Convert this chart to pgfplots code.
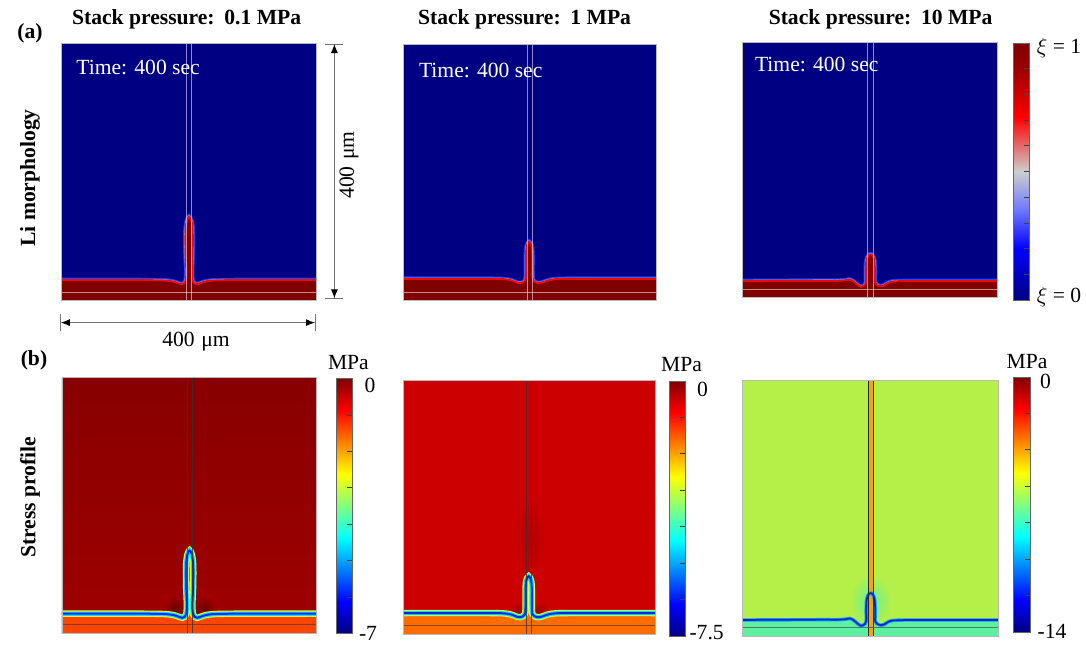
\documentclass[border=0pt]{standalone}
\usepackage{fontspec}
\setmainfont{Liberation Serif}
\usepackage{pgfplots}
\usepackage{pgfplotstable}
\usetikzlibrary{arrows.meta}
\pgfplotsset{compat=1.18}

\definecolor{navybg}{RGB}{0,0,130}
\definecolor{glowblue}{RGB}{20,60,255}
\definecolor{glowlight}{RGB}{150,160,255}
\definecolor{lidark}{RGB}{128,0,0}
\definecolor{lired}{RGB}{235,10,10}
\definecolor{bgA}{RGB}{136,0,0}
\definecolor{bgAlow}{RGB}{160,0,0}
\definecolor{layA}{RGB}{255,70,0}
\definecolor{bgB}{RGB}{204,0,0}
\definecolor{layB}{RGB}{255,108,0}
\definecolor{bgC}{RGB}{180,240,72}
\definecolor{layC}{RGB}{92,240,160}
\definecolor{stripC}{RGB}{245,165,0}
\definecolor{bandY}{RGB}{215,255,50}
\definecolor{bandC}{RGB}{0,225,255}
\definecolor{bandB}{RGB}{0,40,240}

% Li/electrolyte interface, um
\pgfplotstableread{
x y
0 31
120 31
160 30.5
175 29
183 26.5
189 24.5
193 26
195.5 30
196.5 38
196.5 50
195.6 70
195.2 95
195.7 112
197.3 123
199.5 128.5
201 130
202.5 128.5
204.7 123
206.3 112
206.8 95
206.4 70
205.5 50
205.5 38
206.5 30
209 26
213 24.5
219 26.5
227 29
242 30.5
280 31
400 31
}\profA
\pgfplotstableread{
x y
0 33
140 33
165 32
175 29.5
181 27
186 26.5
191 28.5
194 33
194.5 45
194.5 70
195.2 82
197 88
199.5 91
202 88
203.8 82
204.5 70
204.5 45
205 33
208 28.5
213 26.5
219 27
226 29.5
236 32
260 33
400 33
}\profB
\pgfplotstableread{
x y
0 25
120 25.5
150 25.5
163 26.5
168 27.5
174 25
181 19
186 16
191 18
194 23
194 40
194.5 55
196.5 63
199 66.5
201 67
203 66.5
205.5 63
207.5 55
208 40
208 23
211 19
216 17
222 18
228 22
234 24
240 24.5
260 25
400 25
}\profC

\pgfplotsset{
  panel/.style={scale only axis, anchor=north west, xmin=0, xmax=400, ymin=0, ymax=400,
    xtick=\empty, ytick=\empty, axis on top, axis line style={gray!55, line width=0.4pt}},
  sm/.style={smooth, tension=0.4},
  cbar/.style={colorbar style={at={(parent axis.north east)}, anchor=north west,
    yticklabel=\empty, ytick pos=right, tick align=inside, major tick length=2.5pt,
    tick style={black!75, line width=0.4pt}, axis line style={black!60, line width=0.4pt}}},
}
\newcommand\lbl{\fontsize{10.8}{12.5}\selectfont}

\begin{document}
\begin{tikzpicture}[every node/.style={font=\lbl, inner sep=0pt}]
\useasboundingbox (0pt,0pt) rectangle (543pt,-322pt);

% ---------- (a) Li morphology ----------
\begin{axis}[panel, at={(30.5pt,-21.75pt)}, width=127.5pt, height=128.25pt,
  axis background/.style={fill=navybg}]
  \addplot[sm, draw=glowblue, line width=2.4pt] table {\profA};
  \addplot[sm, draw=glowlight, line width=1.3pt] table {\profA};
  \addplot[sm, fill=lidark, draw=none] table {\profA} \closedcycle;
  \addplot[sm, draw=lired, line width=1.0pt] table {\profA};
  \addplot[white, opacity=0.55, line width=0.4pt] coordinates {(197,0)(197,400)};
  \addplot[white, opacity=0.55, line width=0.4pt] coordinates {(205,0)(205,400)};
  \addplot[white, opacity=0.55, line width=0.4pt] coordinates {(0,12)(400,12)};
\end{axis}
\begin{axis}[panel, at={(201.5pt,-22pt)}, width=126.5pt, height=128pt,
  axis background/.style={fill=navybg}]
  \addplot[sm, draw=glowblue, line width=2.4pt] table {\profB};
  \addplot[sm, draw=glowlight, line width=1.3pt] table {\profB};
  \addplot[sm, fill=lidark, draw=none] table {\profB} \closedcycle;
  \addplot[sm, draw=lired, line width=1.0pt] table {\profB};
  \addplot[white, opacity=0.55, line width=0.4pt] coordinates {(196,0)(196,400)};
  \addplot[white, opacity=0.55, line width=0.4pt] coordinates {(204,0)(204,400)};
  \addplot[white, opacity=0.55, line width=0.4pt] coordinates {(0,12)(400,12)};
\end{axis}
\begin{axis}[panel, at={(371pt,-21.25pt)}, width=127.75pt, height=127.25pt,
  axis background/.style={fill=navybg},
  colorbar, cbar, point meta min=0, point meta max=1,
  colormap={wave}{rgb255(0cm)=(0,0,128); rgb255(2cm)=(0,0,255); rgb255(3.5cm)=(110,120,255);
    rgb255(5cm)=(205,205,205); rgb255(7.1cm)=(255,0,0); rgb255(9.1cm)=(150,0,0); rgb255(10cm)=(128,0,0)},
  colorbar style={xshift=-0.75pt, yshift=-0.25pt, width=8pt, height=128.5pt,
    ytick={0.1,0.2,0.3,0.4,0.5,0.6,0.7,0.8,0.9}}]
  \addplot[sm, draw=glowblue, line width=2.4pt] table {\profC};
  \addplot[sm, draw=glowlight, line width=1.3pt] table {\profC};
  \addplot[sm, fill=lidark, draw=none] table {\profC} \closedcycle;
  \addplot[sm, draw=lired, line width=1.0pt] table {\profC};
  \addplot[white, opacity=0.55, line width=0.4pt] coordinates {(197,0)(197,400)};
  \addplot[white, opacity=0.55, line width=0.4pt] coordinates {(205,0)(205,400)};
  \addplot[white, opacity=0.55, line width=0.4pt] coordinates {(0,12)(400,12)};
\end{axis}

% ---------- (b) Stress profile ----------
\begin{axis}[panel, at={(31pt,-188.75pt)}, width=127pt, height=128pt,
  axis background/.style={top color=bgA, bottom color=bgAlow},
  colorbar, cbar, colormap/jet, point meta min=-7, point meta max=0,
  colorbar style={xshift=1.5pt, yshift=-0.5pt, width=8pt, height=127.5pt, ytick={-6,-5,-4,-3,-2,-1}}]
  \addplot[draw=none, inner color=bgA!75!black, outer color=bgAlow] coordinates {(160,12)(195,12)(195,60)(160,60)} -- cycle;
  \addplot[draw=none, inner color=bgA!75!black, outer color=bgAlow] coordinates {(207,12)(242,12)(242,60)(207,60)} -- cycle;
  \addplot[sm, fill=layA, draw=none] table {\profA} \closedcycle;
  \addplot[sm, draw=bandY, line width=3.2pt] table {\profA};
  \addplot[sm, draw=bandC, line width=2.1pt] table {\profA};
  \addplot[sm, draw=bandB, line width=1.0pt] table {\profA};
  \addplot[black!80, opacity=0.8, line width=0.4pt] coordinates {(197,0)(197,400)};
  \addplot[black!80, opacity=0.8, line width=0.4pt] coordinates {(205,0)(205,400)};
  \addplot[black!80, opacity=0.6, line width=0.45pt] coordinates {(0,14)(400,14)};
\end{axis}
\begin{axis}[panel, at={(201.5pt,-190pt)}, width=126pt, height=127pt,
  axis background/.style={fill=bgB},
  colorbar, cbar, colormap/jet, point meta min=-7.5, point meta max=0,
  colorbar style={xshift=-1.5pt, yshift=-0.5pt, width=8pt, height=127.5pt,
    ytick={-6.4286,-5.3571,-4.2857,-3.2143,-2.1429,-1.0714}}]
  \addplot[draw=none, inner color=bgB!88!black, outer color=bgB] coordinates {(175,85)(227,85)(227,220)(175,220)} -- cycle;
  \addplot[draw=none, inner color=bgB!75!black, outer color=bgB] coordinates {(168,15)(196,15)(196,52)(168,52)} -- cycle;
  \addplot[draw=none, inner color=bgB!75!black, outer color=bgB] coordinates {(204,15)(232,15)(232,52)(204,52)} -- cycle;
  \addplot[sm, fill=layB, draw=none] table {\profB} \closedcycle;
  \addplot[sm, draw=bandY, line width=3.2pt] table {\profB};
  \addplot[sm, draw=bandC, line width=2.1pt] table {\profB};
  \addplot[sm, draw=bandB, line width=1.0pt] table {\profB};
  \addplot[black!80, opacity=0.8, line width=0.4pt] coordinates {(196,0)(196,400)};
  \addplot[black!80, opacity=0.8, line width=0.4pt] coordinates {(204,0)(204,400)};
  \addplot[black!80, opacity=0.6, line width=0.45pt] coordinates {(0,14)(400,14)};
\end{axis}
\begin{axis}[panel, at={(371pt,-190pt)}, width=128pt, height=128pt,
  axis background/.style={fill=bgC},
  colorbar, cbar, colormap/jet, point meta min=-14, point meta max=0,
  colorbar style={xshift=-1pt, yshift=1.5pt, width=8.5pt, height=127.5pt, ytick={-12,-10,-8,-6,-4,-2}}]
  \addplot[draw=none, inner color=layC!85!bgC, outer color=bgC] coordinates {(168,15)(234,15)(234,95)(168,95)} -- cycle;
  \addplot[sm, fill=layC, draw=none] table {\profC} \closedcycle;
  \addplot[fill=stripC, draw=none] coordinates {(197,0)(205,0)(205,400)(197,400)} -- cycle;
  \addplot[sm, draw=bandC!70!blue, line width=1.7pt] table {\profC};
  \addplot[sm, draw=bandB!85!black, line width=0.8pt] table {\profC};
  \addplot[black!85, line width=0.45pt] coordinates {(197,0)(197,400)};
  \addplot[black!85, line width=0.45pt] coordinates {(205,0)(205,400)};
  \addplot[black!70, opacity=0.7, line width=0.45pt] coordinates {(0,13.5)(400,13.5)};
\end{axis}

% ---------- labels ----------
\node[font=\lbl\bfseries] at (15pt,-16.5pt) {(a)};
\node[font=\lbl\bfseries] at (17pt,-180pt) {(b)};
\node[font=\lbl\bfseries, rotate=90] at (15pt,-89pt) {Li morphology};
\node[font=\lbl\bfseries, rotate=90] at (15pt,-248.5pt) {Stress profile};
\node[font=\lbl\bfseries] at (93.3pt,-9.75pt) {Stack pressure:\hspace{0.45em}0.1 MPa};
\node[font=\lbl\bfseries] at (262.3pt,-9.75pt) {Stack pressure:\hspace{0.45em}1 MPa};
\node[font=\lbl\bfseries] at (440.3pt,-9.75pt) {Stack pressure:\hspace{0.45em}10 MPa};
\node[anchor=west, text=white] at (38pt,-33.75pt) {Time: 400 sec};
\node[anchor=west, text=white] at (209.3pt,-35.4pt) {Time: 400 sec};
\node[anchor=west, text=white] at (377.3pt,-32pt) {Time: 400 sec};

% dimension arrows
\draw[black!55, line width=0.5pt] (162.5pt,-22pt) -- (171.7pt,-22pt) (162.5pt,-149.2pt) -- (171.7pt,-149.2pt);
\draw[black!55, line width=0.5pt, {Latex[black,length=4.5pt,width=3.5pt]}-{Latex[black,length=4.5pt,width=3.5pt]}]
  (167.2pt,-22pt) -- (167.2pt,-149.2pt);
\node[rotate=90] at (174.5pt,-82.5pt) {400\hspace{0.3em}μm};
\draw[black!55, line width=0.5pt] (30.4pt,-157.2pt) -- (30.4pt,-165.5pt) (157.5pt,-157.2pt) -- (157.5pt,-165.5pt);
\draw[black!55, line width=0.5pt, {Latex[black,length=4.5pt,width=3.5pt]}-{Latex[black,length=4.5pt,width=3.5pt]}]
  (30.4pt,-161.3pt) -- (157.5pt,-161.3pt);
\node at (98pt,-170.8pt) {400\hspace{0.3em}μm};

% colourbar labels
\node at (529.5pt,-24pt) {$\xi$ = 1};
\node at (529.5pt,-148.3pt) {$\xi$ = 0};
\node at (174.2pt,-181.3pt) {MPa};
\node at (185pt,-192.5pt) {0};
\node at (184pt,-316.5pt) {-7};
\node at (340.8pt,-182.5pt) {MPa};
\node at (351.3pt,-194.7pt) {0};
\node at (353.3pt,-316.5pt) {-7.5};
\node at (513.5pt,-180.8pt) {MPa};
\node at (522.8pt,-190.8pt) {0};
\node at (526pt,-315.8pt) {-14};
\end{tikzpicture}
\end{document}
